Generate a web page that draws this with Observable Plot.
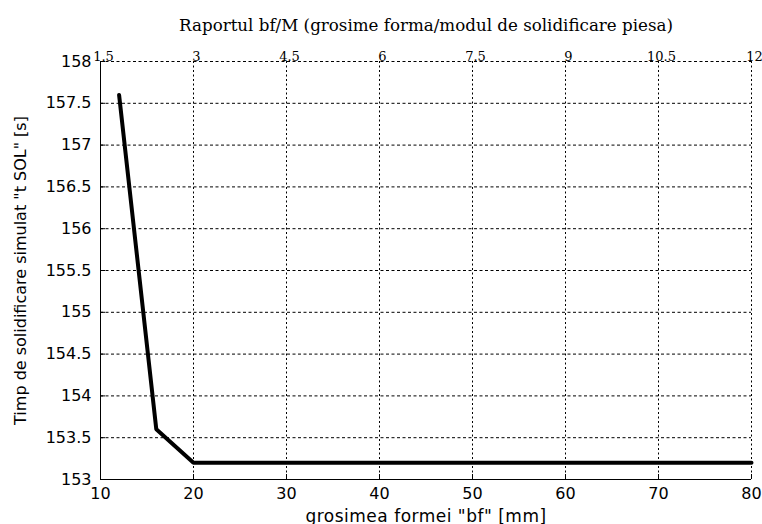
<!DOCTYPE html>
<html>
<head>
<meta charset="utf-8">
<script src="https://cdn.jsdelivr.net/npm/d3@7"></script>
<script src="https://cdn.jsdelivr.net/npm/@observablehq/plot@0.6"></script>
<style>
  html, body { margin: 0; padding: 0; background: #fff; }
  svg { display: block; }
</style>
</head>
<body>
<div id="chart"></div>
<script>
// data
const thickness = [12, 16, 20, 30, 40, 50, 60, 70, 80];             // grosimea formei bf [mm]
const solidTime = [157.6, 153.6, 153.2, 153.2, 153.2, 153.2, 153.2, 153.2, 153.2]; // t SOL [s]
const xTicks = [10, 20, 30, 40, 50, 60, 70, 80];
const ratioLabels = ["1.5", "3", "4.5", "6", "7.5", "9", "10.5", "12"];
const yTicks = [153, 153.5, 154, 154.5, 155, 155.5, 156, 156.5, 157, 157.5, 158];

const xLabel = "grosimea formei \"bf\" [mm]";
const topLabel = "Raportul bf/M (grosime forma/modul de solidificare piesa)";
const yLabel = "Timp de solidificare simulat \"t SOL\" [s]";

const data = thickness.map((x, i) => ({x, y: solidTime[i]}));
const sans = "DejaVu Sans";
const serif = "DejaVu Serif";

const chart = Plot.plot({
  width: 762,
  height: 524,
  marginLeft: 100,
  marginRight: 11,
  marginTop: 61,
  marginBottom: 45,
  style: {background: "#fff", color: "#000"},
  x: {domain: [xTicks[0], xTicks[xTicks.length - 1]]},
  y: {domain: [yTicks[0], yTicks[yTicks.length - 1]]},
  marks: [
    // dashed grid
    Plot.ruleX(xTicks.slice(1), {stroke: "#000", strokeWidth: 1, strokeDasharray: "2,2.5"}),
    Plot.ruleY(yTicks.slice(1), {stroke: "#000", strokeWidth: 1, strokeDasharray: "3,2.5"}),
    // solid axes
    Plot.ruleX([xTicks[0]], {stroke: "#000", strokeWidth: 1}),
    Plot.ruleY([yTicks[0]], {stroke: "#000", strokeWidth: 1}),
    // bottom axis
    Plot.axisX({
      anchor: "bottom", ticks: xTicks, tickSize: -5, tickPadding: 13,
      fontSize: 16, fontFamily: sans,
      label: xLabel, labelAnchor: "center", labelOffset: 42
    }),
    // top axis (ratio bf/M)
    Plot.axisX({
      anchor: "top", ticks: xTicks, tickSize: 0, tickPadding: 1, dx: 3,
      tickFormat: (d) => ratioLabels[xTicks.indexOf(d)],
      fontSize: 13, fontFamily: serif,
      label: topLabel, labelAnchor: "center", labelOffset: 42
    }),
    // left axis
    Plot.axisY({
      anchor: "left", ticks: yTicks, tickSize: -5, tickPadding: 14,
      tickFormat: (d) => String(d),
      fontSize: 16, fontFamily: sans,
      label: yLabel, labelAnchor: "center", labelOffset: 86
    }),
    // curve
    Plot.line(data, {x: "x", y: "y", stroke: "#000", strokeWidth: 4, strokeLinejoin: "miter"})
  ]
});

// label styling: strip arrows, set fonts
chart.querySelectorAll("[aria-label='x-axis label'] text, [aria-label='y-axis label'] text").forEach(t => {
  const s = t.textContent.replace(/\s*[→←↑↓]\s*/g, "").trim();
  t.textContent = s;
  if (s === topLabel) {
    t.setAttribute("font-family", serif);
    t.setAttribute("font-size", "16.7");
  } else if (s === xLabel) {
    t.setAttribute("font-family", sans);
    t.setAttribute("font-size", "17");
    t.setAttribute("letter-spacing", "0.5");
  } else {
    t.setAttribute("font-family", sans);
    t.setAttribute("font-size", "16");
  }
});
document.getElementById("chart").appendChild(chart);
</script>
</body>
</html>
